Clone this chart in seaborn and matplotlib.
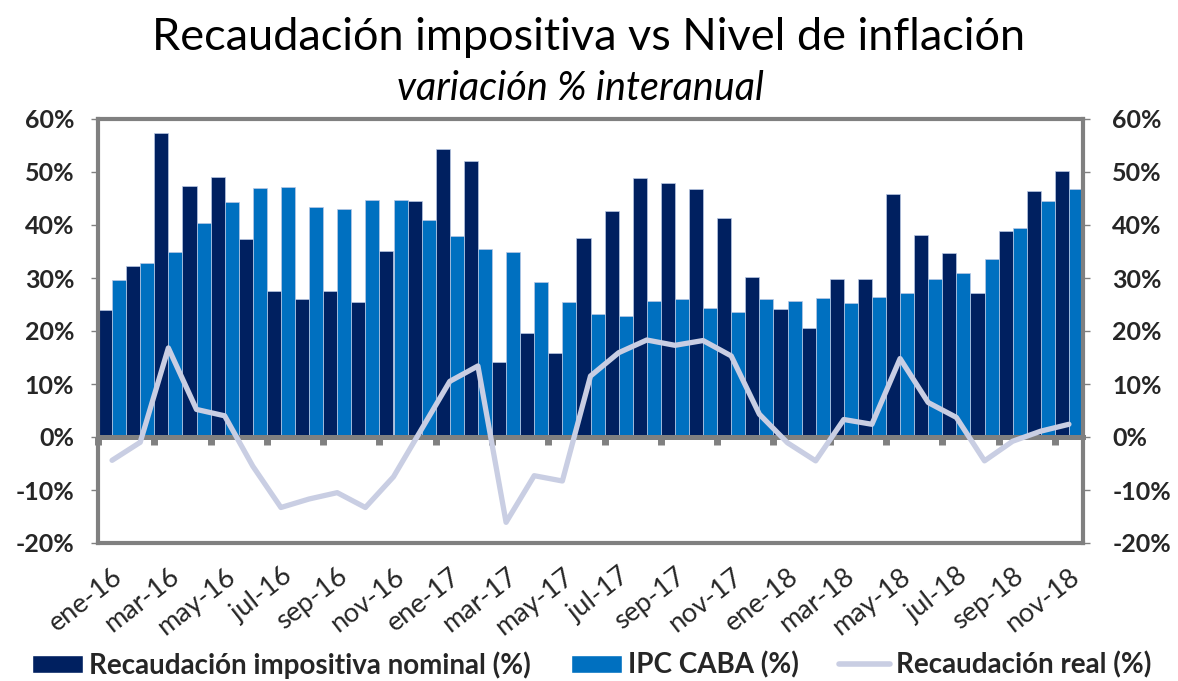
import numpy as np
import pandas as pd
import matplotlib
matplotlib.use("Agg")
import matplotlib.pyplot as plt
import seaborn as sns
from matplotlib.patches import Patch
from matplotlib.lines import Line2D
from matplotlib.ticker import FuncFormatter

# meses (ene-16 a nov-18)
meses = ["ene-16", "feb-16", "mar-16", "abr-16", "may-16", "jun-16", "jul-16", "ago-16", "sep-16", "oct-16", "nov-16", "dic-16",
         "ene-17", "feb-17", "mar-17", "abr-17", "may-17", "jun-17", "jul-17", "ago-17", "sep-17", "oct-17", "nov-17", "dic-17",
         "ene-18", "feb-18", "mar-18", "abr-18", "may-18", "jun-18", "jul-18", "ago-18", "sep-18", "oct-18", "nov-18"]

# variación % interanual
nominal = [23.9, 32.3, 57.3, 47.4, 49.1, 37.4, 27.5, 26.1, 27.6, 25.4, 35.1, 44.5,
           54.3, 52.0, 14.1, 19.7, 15.8, 37.5, 42.6, 48.8, 48.0, 46.8, 41.3, 30.2,
           24.2, 20.5, 29.8, 29.8, 45.9, 38.2, 34.7, 27.1, 38.9, 46.5, 50.2]
ipc = [29.6, 32.8, 34.9, 40.4, 44.4, 47.0, 47.2, 43.4, 43.0, 44.7, 44.7, 41.0,
       38.0, 35.5, 34.9, 29.3, 25.4, 23.3, 22.9, 25.7, 26.1, 24.4, 23.6, 26.1,
       25.7, 26.3, 25.3, 26.5, 27.1, 29.8, 31.0, 33.5, 39.4, 44.5, 46.7]
real = [-4.4, -1.0, 16.8, 5.2, 4.0, -5.5, -13.3, -11.7, -10.5, -13.3, -7.5, 1.5,
        10.5, 13.4, -16.1, -7.3, -8.3, 11.5, 15.9, 18.3, 17.3, 18.2, 15.3, 4.3,
        -1.1, -4.5, 3.3, 2.4, 14.8, 6.5, 3.7, -4.5, -0.8, 1.1, 2.4]

series = ["Recaudación impositiva nominal (%)", "IPC CABA (%)", "Recaudación real (%)"]
c_nom = "#002060"
c_ipc = "#0070C0"
c_real = "#C9CEE3"
gris = "#808080"

sns.set_theme(style="white")
plt.rcParams["font.family"] = ["Lato", "DejaVu Sans"]

df = pd.DataFrame({"mes": meses * 2,
                   "serie": [series[0]] * len(meses) + [series[1]] * len(meses),
                   "valor": nominal + ipc})

fig = plt.figure(figsize=(11.78, 6.81), dpi=100)
ax = fig.add_axes([98 / 1178, 1 - 543 / 681, (1083 - 98) / 1178, (543 - 119) / 681])

sns.barplot(data=df, x="mes", y="valor", hue="serie", order=meses, hue_order=series[:2],
            palette=[c_nom, c_ipc], width=1.0, gap=0, saturation=1, legend=False,
            edgecolor="#B9C8E4", linewidth=0.5, ax=ax, zorder=2)
sns.lineplot(x=np.arange(len(meses)), y=real, color=c_real, linewidth=3.8, ax=ax,
             solid_joinstyle="round", solid_capstyle="round", zorder=4)

ax.set_xlim(-0.5, len(meses) - 0.5)
ax.set_ylim(-20, 60)
ax.set_xlabel("")
ax.set_ylabel("")

# bordes grises
for s in ax.spines.values():
    s.set_visible(True)
    s.set_color(gris)
    s.set_linewidth(3)

fmt = FuncFormatter(lambda v, p: "%d%%" % v)
ax.set_yticks(np.arange(-20, 61, 10))
ax.yaxis.set_major_formatter(fmt)
ax.tick_params(axis="y", left=True, direction="out", length=5, width=1, color=gris, pad=12,
               labelsize=18)
for t in ax.get_yticklabels():
    t.set_fontweight("bold")

ax.set_xticks(np.arange(0, len(meses), 2))
ax.set_xticklabels(meses[::2], rotation=38, ha="right", va="top", rotation_mode="anchor")
ax.tick_params(axis="x", bottom=True, length=0, pad=15, labelsize=19.5)

# eje derecho
ax2 = ax.twinx()
ax2.set_ylim(-20, 60)
ax2.set_yticks(np.arange(-20, 61, 10))
ax2.yaxis.set_major_formatter(fmt)
ax2.tick_params(axis="y", right=True, direction="out", length=5, width=1, color=gris, pad=16,
                labelsize=18)
for t in ax2.get_yticklabels():
    t.set_fontweight("bold")
for s in ax2.spines.values():
    s.set_visible(False)

# linea del cero con marcas cada dos meses
sec = ax.secondary_xaxis(0.25)
sec.set_zorder(3)
sec.spines["bottom"].set_color(gris)
sec.spines["bottom"].set_linewidth(3.6)
sec.set_xticks(np.arange(-0.5, len(meses) - 1, 2))
sec.tick_params(axis="x", direction="out", length=6, width=5, color=gris, labelbottom=False)

fig.text(0.5, 1 - 37 / 681, "Recaudación impositiva vs Nivel de inflación", ha="center", va="center",
         fontsize=32.5, color="black")
fig.text(0.493, 1 - 88 / 681, "variación % interanual", ha="center", va="center",
         fontsize=28.5, style="italic", color="black")

handles = [Patch(facecolor=c_nom), Patch(facecolor=c_ipc),
           Line2D([0], [0], color=c_real, linewidth=4)]
fig.legend(handles, series, loc="center", bbox_to_anchor=(0.502, 1 - 665 / 681), ncol=3,
           frameon=False, prop={"size": 20, "weight": "bold"}, handlelength=1.85,
           handleheight=0.6, columnspacing=1.45, handletextpad=0.2)

fig.savefig("out.png", dpi=100)
